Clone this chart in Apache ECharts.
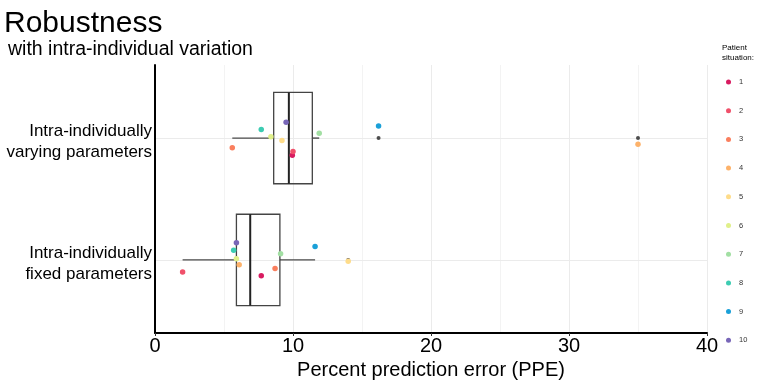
<!DOCTYPE html>
<html>
<head>
<meta charset="utf-8">
<script src="https://cdn.jsdelivr.net/npm/echarts@6/dist/echarts.min.js"></script>
<style>
  html, body { margin: 0; padding: 0; background: #fff; }
  #main { width: 760px; height: 383px; }
</style>
</head>
<body>
<div id="main"></div>
<script>
// categories on the y axis (1 = fixed, 2 = varying)
var categories = ['Intra-individually\nfixed parameters', 'Intra-individually\nvarying parameters'];
var patients = ['1', '2', '3', '4', '5', '6', '7', '8', '9', '10'];
var patientColors = ['#d81b60', '#f0506a', '#fa7f5e', '#fdb26a', '#fedc8a', '#e0f08a', '#a2dfa3', '#3dccb2', '#1aa0d8', '#7866b8'];

// PPE per patient, and jittered y position
var fixedPPE    = [7.7, 2.0, 8.7, 6.1, 14.0, 5.9, 9.1, 5.7, 11.6, 5.9];
var fixedY      = [0.87, 0.90, 0.93, 0.96, 0.99, 1.01, 1.05, 1.08, 1.11, 1.14];
var varyingPPE  = [9.95, 10.0, 5.6, 35.0, 9.2, 8.4, 11.9, 7.7, 16.2, 9.5];
var varyingY    = [1.86, 1.89, 1.92, 1.95, 1.98, 2.01, 2.04, 2.07, 2.10, 2.13];

// box stats: [cat, lower whisker, q1, median, q3, upper whisker]
var boxStats = [
  [1, 2.0, 5.9, 6.9, 9.05, 11.6],
  [2, 5.6, 8.6, 9.7, 11.4, 11.9]
];
// outliers: [ppe, cat]
var outliers = [[14.0, 1], [16.2, 2], [35.0, 2]];

var chart = echarts.init(document.getElementById('main'));

var series = [];
// horizontal grid lines at the two categories, kept underneath everything
series.push({
  type: 'scatter',
  name: 'grid',
  silent: true,
  z: 0,
  data: [],
  markLine: {
    silent: true,
    symbol: 'none',
    z: 0,
    label: { show: false },
    lineStyle: { color: '#ebebeb', type: 'solid', width: 1 },
    data: [{ yAxis: 1 }, { yAxis: 2 }]
  }
});

series.push({
  type: 'custom',
  name: 'box',
  silent: true,
  z: 2,
  data: boxStats,
  encode: { x: [1, 2, 3, 4, 5], y: 0 },
  renderItem: function (params, api) {
    var c = api.value(0);
    var lo = api.coord([api.value(1), c]);
    var q1 = api.coord([api.value(2), c + 0.375]);
    var q3 = api.coord([api.value(4), c - 0.375]);
    var medTop = api.coord([api.value(3), c + 0.375]);
    var medBot = api.coord([api.value(3), c - 0.375]);
    var q1m = api.coord([api.value(2), c]);
    var q3m = api.coord([api.value(4), c]);
    var hi = api.coord([api.value(5), c]);
    var grey = '#4a4a4a';
    return {
      type: 'group',
      children: [
        { type: 'line', shape: { x1: lo[0], y1: lo[1], x2: q1m[0], y2: q1m[1] }, style: { stroke: grey, lineWidth: 1.4 } },
        { type: 'line', shape: { x1: q3m[0], y1: q3m[1], x2: hi[0], y2: hi[1] }, style: { stroke: grey, lineWidth: 1.4 } },
        { type: 'rect', shape: { x: q1[0], y: q1[1], width: q3[0] - q1[0], height: q3[1] - q1[1] }, style: { fill: 'rgba(255,255,255,0)', stroke: '#444', lineWidth: 1.3 } },
        { type: 'line', shape: { x1: medTop[0], y1: medTop[1], x2: medBot[0], y2: medBot[1] }, style: { stroke: '#222', lineWidth: 2 } }
      ]
    };
  }
});

series.push({
  type: 'scatter',
  name: 'outliers',
  symbolSize: 4,
  z: 3,
  itemStyle: { color: '#222' },
  data: outliers
});

patients.forEach(function (p, i) {
  series.push({
    type: 'scatter',
    name: p,
    symbolSize: 5.5,
    z: 4,
    itemStyle: { color: patientColors[i], opacity: 1 },
    data: [[fixedPPE[i], fixedY[i]], [varyingPPE[i], varyingY[i]]]
  });
});

chart.setOption({
  animation: false,
  textStyle: { fontFamily: 'Liberation Sans, Arial, sans-serif' },
  title: [
    { text: 'Robustness', left: 4, top: 9, padding: 0, textStyle: { fontSize: 30, fontWeight: 'normal', color: '#000' } },
    { text: 'with intra-individual variation', left: 8, top: 40, padding: 0, textStyle: { fontSize: 19.5, fontWeight: 'normal', color: '#000' } },
    { text: 'Patient\nsituation:', left: 722, top: 43, padding: 0, textStyle: { fontSize: 8, fontWeight: 'normal', color: '#000', lineHeight: 10 } }
  ],
  legend: {
    data: patients,
    orient: 'vertical',
    left: 726,
    top: 78,
    padding: 0,
    itemWidth: 5,
    itemHeight: 5,
    itemGap: 20.7,
    icon: 'circle',
    textStyle: { fontSize: 7.5, color: '#333', padding: [0, 0, 0, 3] }
  },
  grid: { left: 155, right: 53, top: 65, bottom: 50, outerBoundsMode: 'none' },
  xAxis: {
    type: 'value',
    min: 0,
    max: 40,
    interval: 10,
    axisLine: { show: true, lineStyle: { color: '#000', width: 2 } },
    axisTick: { show: true, length: 3, lineStyle: { color: '#333' } },
    axisLabel: { fontSize: 20, color: '#000', margin: 3 },
    splitLine: { show: true, lineStyle: { color: '#ebebeb' } },
    minorTick: { show: false, splitNumber: 2 },
    minorSplitLine: { show: true, lineStyle: { color: '#f3f3f3' } },
    name: 'Percent prediction error (PPE)',
    nameLocation: 'middle',
    nameGap: 25,
    nameTextStyle: { fontSize: 20, color: '#000' }
  },
  yAxis: {
    type: 'value',
    min: 0.4,
    max: 2.6,
    axisLine: { show: true, lineStyle: { color: '#000', width: 2 } },
    axisTick: { show: false },
    splitLine: { show: false },
    axisLabel: {
      // labels sit a few px below the category line, as in the reference
      customValues: [0.97, 1.97],
      fontSize: 17,
      lineHeight: 21,
      color: '#000',
      margin: 3,
      formatter: function (v) { return categories[Math.round(v) - 1]; }
    }
  },
  series: series
});
</script>
</body>
</html>
